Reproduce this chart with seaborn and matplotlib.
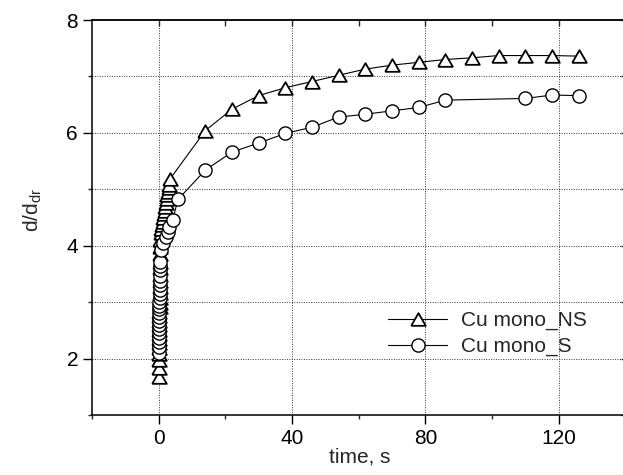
import matplotlib
matplotlib.use("Agg")
import matplotlib.pyplot as plt
import seaborn as sns
import pandas as pd
from matplotlib.ticker import MultipleLocator, FixedLocator

# Relative size d/d_dr versus time for two copper monolayer samples
time_ns = [0.00, 0.02, 0.04, 0.06, 0.08, 0.10, 0.12, 0.14, 0.16, 0.18,
           0.20, 0.22, 0.24, 0.26, 0.28, 0.30, 0.32, 0.34, 0.36, 0.38,
           0.40, 0.42, 0.44, 0.46, 0.48,
           0.6, 0.8, 1.0, 1.2, 1.4, 1.6, 1.8, 2.0, 2.2, 2.4, 2.6, 2.8, 3.0, 3.2,
           3.5, 14, 22, 30, 38, 46, 54, 62, 70, 78, 86, 94, 102, 110, 118, 126]
ratio_ns = [1.68, 1.83, 1.97, 2.08, 2.18, 2.27, 2.35, 2.43, 2.51, 2.59,
            2.67, 2.75, 2.83, 2.91, 2.99, 3.08, 3.17, 3.27, 3.37, 3.48,
            3.60, 3.72, 3.85, 3.98, 4.10,
            4.22, 4.29, 4.36, 4.42, 4.49, 4.56, 4.62, 4.69, 4.76, 4.82, 4.89,
            4.95, 5.02, 5.08,
            5.19, 6.04, 6.42, 6.66, 6.80, 6.91, 7.02, 7.13, 7.20, 7.25, 7.30,
            7.33, 7.37, 7.37, 7.37, 7.36]

time_s = [0.00, 0.02, 0.04, 0.06, 0.08, 0.10, 0.12, 0.14, 0.16, 0.18,
          0.20, 0.22, 0.24, 0.26, 0.28, 0.30, 0.32, 0.34, 0.36, 0.38,
          0.40, 0.5, 0.7, 1.2, 2.2, 2.7, 3.2, 4.2, 5.8,
          14, 22, 30, 38, 46, 54, 62, 70, 78, 86, 110, 118, 126]
ratio_s = [2.10, 2.20, 2.29, 2.37, 2.45, 2.52, 2.59, 2.66, 2.73, 2.80,
           2.87, 2.94, 3.01, 3.08, 3.15, 3.22, 3.30, 3.38, 3.47, 3.57,
           3.64, 3.72, 3.92, 4.04, 4.16, 4.25, 4.34, 4.46, 4.82,
           5.34, 5.66, 5.82, 5.99, 6.10, 6.28, 6.33, 6.39, 6.45, 6.58,
           6.61, 6.67, 6.66]

series_names = ["Cu mono_NS", "Cu mono_S"]
x_major = [0, 40, 80, 120]
x_minor = [-20, 20, 60, 100, 140]
y_major = [2, 4, 6, 8]

FS = 15

sns.set_theme(style="ticks")
plt.rcParams["font.family"] = ["Liberation Sans", "DejaVu Sans"]
plt.rcParams["mathtext.default"] = "regular"

W, H = 623, 475
fig = plt.figure(figsize=(W / 100, H / 100), dpi=100)
ax = fig.add_axes([92 / W, 60 / H, 535 / W, 395 / H])

tri = [(-1.0, -0.866), (1.0, -0.866), (0.0, 0.866), (-1.0, -0.866)]

df_ns = pd.DataFrame({"time": time_ns, "ratio": ratio_ns})
df_s = pd.DataFrame({"time": time_s, "ratio": ratio_s})

common = dict(color="black", linewidth=0.8, markerfacecolor="white",
              markeredgecolor="black", estimator=None, sort=False)
sns.lineplot(data=df_ns, x="time", y="ratio", ax=ax, marker=tri,
             markersize=10.5, markeredgewidth=1.3, label=series_names[0],
             **common)
sns.lineplot(data=df_s, x="time", y="ratio", ax=ax, marker="o",
             markersize=9.5, markeredgewidth=1.0, label=series_names[1],
             **common)

ax.set_xlim(-20, 140.5)
ax.set_ylim(1, 8)

# dotted grid: every unit in y, labelled positions only in x
for yv in [2, 3, 4, 5, 6, 7]:
    ax.axhline(yv, color="#333333", linestyle=(0, (1, 1.5)), linewidth=0.7, zorder=0)
for xv in x_major:
    ax.axvline(xv, color="#333333", linestyle=(0, (1, 1.5)), linewidth=0.7, zorder=0)

ax.xaxis.set_major_locator(FixedLocator(x_major))
ax.xaxis.set_minor_locator(FixedLocator(x_minor))
ax.yaxis.set_major_locator(FixedLocator(y_major))
ax.yaxis.set_minor_locator(MultipleLocator(1))

for side in ["left", "top", "bottom"]:
    ax.spines[side].set_visible(True)
    ax.spines[side].set_linewidth(1.1)
    ax.spines[side].set_color("black")
ax.spines["right"].set_visible(False)

ax.tick_params(which="major", direction="out", length=6.5, width=1.0,
               labelsize=FS, colors="black", pad=3.5,
               top=False, right=False)
ax.tick_params(which="minor", direction="out", length=3.2, width=1.0,
               top=False, right=False)
# mirrored inward ticks on the top and right edges
sec_x = ax.secondary_xaxis("top")
sec_x.xaxis.set_major_locator(FixedLocator(x_major))
sec_x.xaxis.set_minor_locator(FixedLocator([20, 60, 100]))
sec_x.tick_params(which="both", direction="in", length=4.5, width=1.0,
                  labeltop=False)
sec_x.spines["top"].set_linewidth(1.1)
sec_y = ax.secondary_yaxis("right")
sec_y.yaxis.set_major_locator(FixedLocator(y_major))
sec_y.yaxis.set_minor_locator(MultipleLocator(1))
sec_y.tick_params(which="both", direction="in", length=4.5, width=1.0,
                  labelright=False)
sec_y.spines["right"].set_visible(False)

ax.set_xlabel("time, s", fontsize=FS, labelpad=0)
ax.set_ylabel("d/d$_{dr}$", fontsize=FS)
ax.yaxis.set_label_coords((44 - 92) / 535, (415 - 210) / 395)

leg = ax.legend(loc="center left",
                bbox_to_anchor=(388 / W, 1 - 333.5 / H),
                bbox_transform=fig.transFigure,
                frameon=False, fontsize=FS, handlelength=2.84,
                handletextpad=0.67, labelspacing=0.32, borderaxespad=0,
                borderpad=0)

fig.savefig("out.png", dpi=100)
